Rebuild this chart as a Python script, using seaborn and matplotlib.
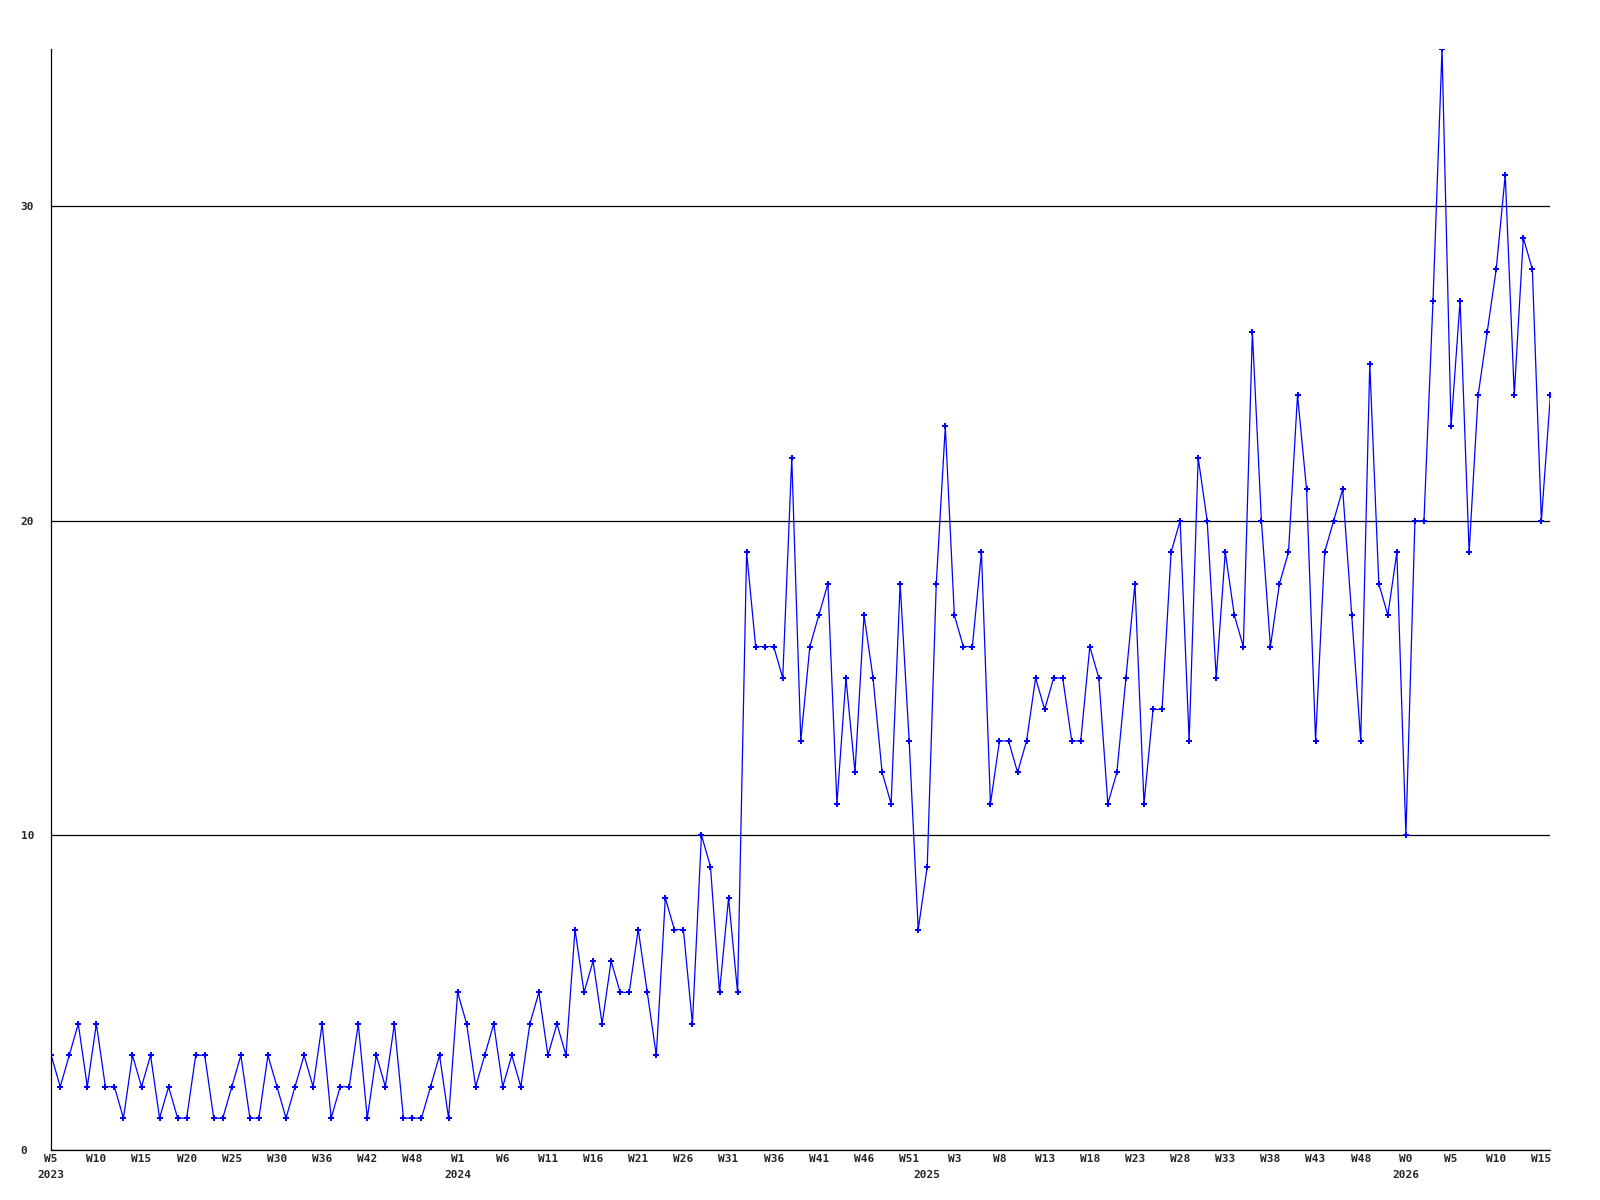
import pandas as pd
import seaborn as sns
import matplotlib.pyplot as plt

# weekly counts, 2023 W5 .. 2026 W16
counts = [3, 2, 3, 4, 2, 4, 2, 2, 1, 3, 2, 3, 1, 2, 1, 1, 3, 3, 1, 1,
          2, 3, 1, 1, 3, 2, 1, 2, 3, 2, 4, 1, 2, 2, 4, 1, 3, 2, 4, 1,
          1, 1, 2, 3, 1, 5,
          4, 2, 3, 4, 2, 3, 2, 4, 5, 3, 4, 3, 7, 5, 6, 4, 6, 5, 5, 7,
          5, 3, 8, 7, 7, 4, 10, 9, 5, 8, 5,
          19, 16, 16, 16, 15, 22, 13, 16, 17, 18, 11, 15, 12, 17, 15, 12, 11, 18, 13, 7,
          9, 18, 23, 17, 16, 16, 19, 11, 13, 13, 12,
          13, 15, 14, 15, 15, 13, 13, 16, 15, 11, 12, 15, 18, 11, 14, 14, 19, 20, 13, 22,
          20, 15, 19, 17, 16, 26, 20, 16, 18,
          19, 24, 21, 13, 19, 20, 21, 17, 13, 25, 18, 17, 19, 10, 20, 20, 27, 35, 23, 27,
          19, 24, 26, 28, 31, 24, 29, 28, 20, 24]

week_labels = ['W5', 'W10', 'W15', 'W20', 'W25', 'W30', 'W36', 'W42', 'W48', 'W1',
               'W6', 'W11', 'W16', 'W21', 'W26', 'W31', 'W36', 'W41', 'W46', 'W51',
               'W3', 'W8', 'W13', 'W18', 'W23', 'W28', 'W33', 'W38', 'W43', 'W48',
               'W0', 'W5', 'W10', 'W15']
years = ['2023', '2024', '2025', '2026']
year_pos = [0, 45, 97, 150]

df = pd.DataFrame({'week': range(len(counts)), 'count': counts})

sns.set_style('white')
plt.rcParams['font.family'] = ['DejaVu Sans Mono']
plt.rcParams['font.weight'] = 'bold'

fig = plt.figure(figsize=(16, 12), dpi=100)
ax = fig.add_axes([0.032, 0.042, 0.937, 0.917])

sns.lineplot(data=df, x='week', y='count', ax=ax, color='#0000ff', linewidth=0.9,
             marker='P', markersize=4.5, markeredgewidth=0)

ax.set_xlim(0, len(counts) - 1)
ax.set_ylim(0, 35)

ax.set_yticks([0, 10, 20, 30])
ax.set_yticklabels(['0', '10', '20', '30'], fontsize=8, fontweight='bold')
for lab in ax.get_yticklabels():
    lab.set_horizontalalignment('left')
ax.tick_params(axis='y', length=0, pad=22)

ax.set_xticks(range(0, len(counts), 5))
ax.set_xticklabels(week_labels, fontsize=8, fontweight='bold')
ax.tick_params(axis='x', length=0, pad=3)

# year row under the week labels
secax = ax.secondary_xaxis('bottom')
secax.set_xticks(year_pos)
secax.set_xticklabels(years, fontsize=8, fontweight='bold')
secax.tick_params(axis='x', length=0, pad=15)
secax.spines['bottom'].set_visible(False)

ax.grid(axis='y', color='black', linewidth=0.9)
ax.grid(axis='x', visible=False)
ax.set_axisbelow(True)
for side in ['top', 'right']:
    ax.spines[side].set_visible(False)
for side in ['left', 'bottom']:
    ax.spines[side].set_color('black')
    ax.spines[side].set_linewidth(0.9)

ax.set_xlabel('')
ax.set_ylabel('')

fig.savefig('out.png', dpi=100)
